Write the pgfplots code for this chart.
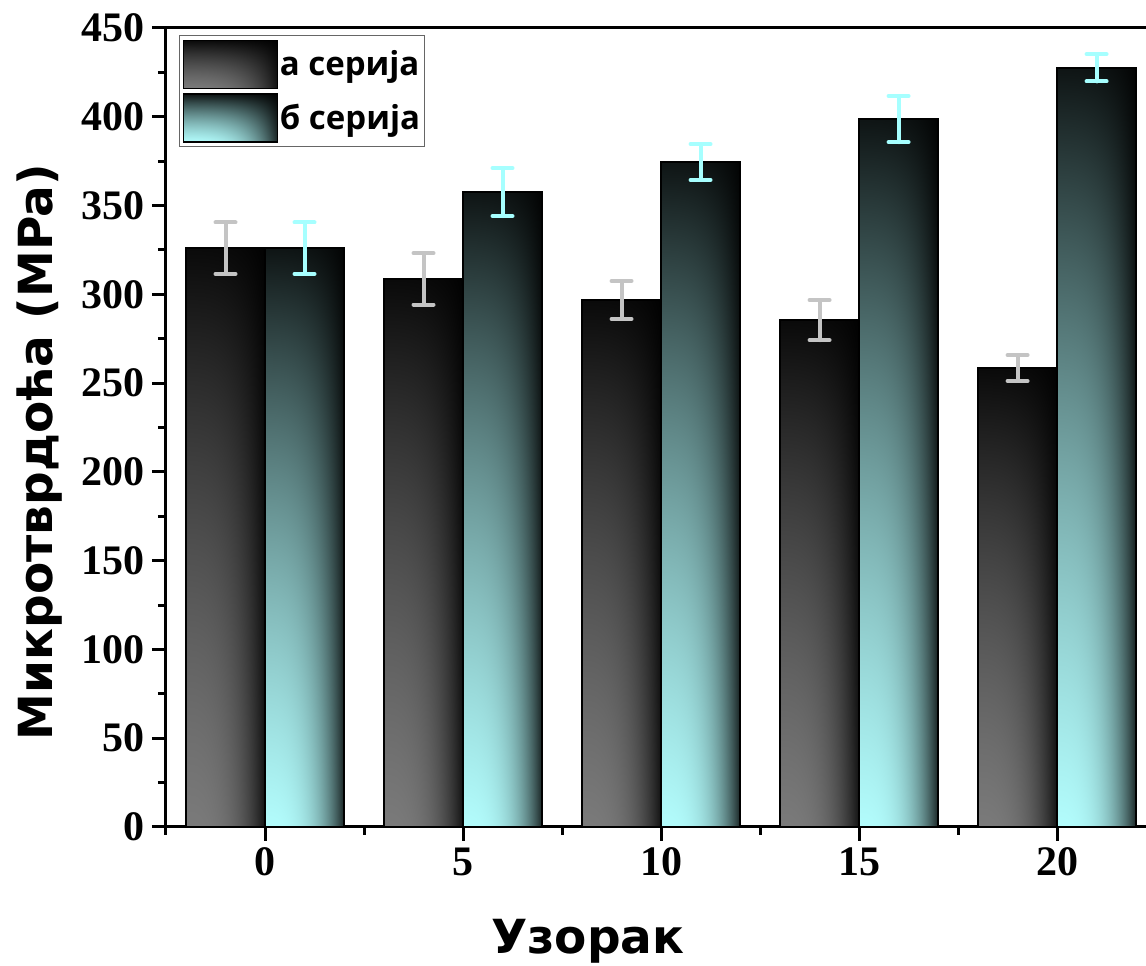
\documentclass[border=0pt]{standalone}
\usepackage{fontspec}
\setmainfont{Liberation Serif}
\newfontfamily\labfont{DejaVu Sans}
\newfontfamily\legfont{Open Sans}
\usepackage{pgfplots}
\usepackage{pgfplotstable}
\pgfplotsset{compat=1.18}

\definecolor{errgray}{HTML}{C4C4C4}
\definecolor{errcyan}{HTML}{A6FFFF}

% 2D gradient shadings (bar bbox maps to 25bp..75bp)
\pgfdeclarefunctionalshading{ashade}{\pgfpointorigin}{\pgfpoint{100bp}{100bp}}{}{
 25 sub 50 div dup dup mul -0.368 mul exch -0.552 mul add 1 add
 exch 25 sub 50 div dup dup mul mul -0.85 mul 1 add
 mul 0.48 mul dup dup
}
\pgfdeclarefunctionalshading{bshade}{\pgfpointorigin}{\pgfpoint{100bp}{100bp}}{}{
 25 sub 50 div dup dup mul -0.368 mul exch -0.552 mul add 1 add
 exch 25 sub 50 div dup dup mul mul -0.85 mul 1 add
 mul dup 0.70 mul exch dup 0.99 mul exch 0.99 mul
}

\pgfplotstableread{
x y e
0 326.0 14.5
1 308.7 14.5
2 296.8 10.7
3 285.5 11.3
4 258.5 7.3
}\seriesa
\pgfplotstableread{
x y e
0 326.0 14.5
1 357.6 13.5
2 374.5 10.1
3 398.7 13.0
4 427.6 7.7
}\seriesb

\pgfplotsset{
  abar/.style={bar shift=-19.75pt,
    draw=black, line width=0.8pt, shade, shading=ashade,
    error bars/y dir=both, error bars/y explicit,
    error bars/error bar style={line width=2pt, color=errgray, line cap=round},
    error bars/error mark options={rotate=90, mark size=5pt, line width=2pt, color=errgray, line cap=round}},
  bbar/.style={bar shift=19.75pt,
    draw=black, line width=0.8pt, shade, shading=bshade,
    error bars/y dir=both, error bars/y explicit,
    error bars/error bar style={line width=2pt, color=errcyan, line cap=round},
    error bars/error mark options={rotate=90, mark size=5pt, line width=2pt, color=errcyan, line cap=round}},
}

\begin{document}
\begin{tikzpicture}
\begin{axis}[
  scale only axis,
  width=490pt, height=399.5pt,
  xmin=-0.5, xmax=4.449,
  ymin=0, ymax=450,
  clip=false,
  ybar=0pt, bar width=39.5pt,
  axis lines*=left,
  axis line style={-, line width=1.5pt},
  tick align=outside,
  major tick length=7pt,
  minor tick length=4pt,
  every tick/.style={black, line width=1.5pt},
  xtick={0,1,2,3,4},
  xticklabels={0,5,10,15,20},
  minor xtick={-0.5,0.5,1.5,2.5,3.5},
  ytick={0,50,...,450},
  minor ytick={25,75,...,425},
  /pgf/number format/assume math mode=true,
  ticklabel style={font=\fontsize{21}{21}\selectfont\bfseries},
  ylabel={Микротврдоћа (MPa)},
  xlabel={Узорак},
  ylabel style={at={(axis description cs:-0.1286,0.469)}, anchor=center, font=\labfont\fontsize{23.5}{23.5}\selectfont\bfseries},
  xlabel style={at={(axis description cs:0.4306,-0.158)}, anchor=base, font=\labfont\fontsize{23.5}{23.5}\selectfont\bfseries},
  legend style={at={(axis description cs:0.0133,0.9912)}, anchor=north west,
    draw=black!60, line width=0.6pt, fill=white,
    inner xsep=1.5pt, inner ysep=2pt, row sep=2pt,
    font=\legfont\fontsize{16.5}{16.5}\selectfont\bfseries,
    nodes={inner sep=0.8pt},
    cells={anchor=west}},
  legend image code/.code={\draw[#1, line width=0.8pt] (0pt,-12pt) rectangle (47pt,12pt);},
]
\addplot[abar, restrict x to domain=-0.2:0.2] table[x=x, y=y, y error=e] {\seriesa};
\addlegendentry{а серија}
\addplot[bbar, restrict x to domain=-0.2:0.2] table[x=x, y=y, y error=e] {\seriesb};
\addlegendentry{б серија}
\addplot[abar, forget plot, restrict x to domain=0.8:1.2] table[x=x, y=y, y error=e] {\seriesa};
\addplot[bbar, forget plot, restrict x to domain=0.8:1.2] table[x=x, y=y, y error=e] {\seriesb};
\addplot[abar, forget plot, restrict x to domain=1.8:2.2] table[x=x, y=y, y error=e] {\seriesa};
\addplot[bbar, forget plot, restrict x to domain=1.8:2.2] table[x=x, y=y, y error=e] {\seriesb};
\addplot[abar, forget plot, restrict x to domain=2.8:3.2] table[x=x, y=y, y error=e] {\seriesa};
\addplot[bbar, forget plot, restrict x to domain=2.8:3.2] table[x=x, y=y, y error=e] {\seriesb};
\addplot[abar, forget plot, restrict x to domain=3.8:4.2] table[x=x, y=y, y error=e] {\seriesa};
\addplot[bbar, forget plot, restrict x to domain=3.8:4.2] table[x=x, y=y, y error=e] {\seriesb};
\draw[line width=1.5pt] (rel axis cs:0,1) -- (rel axis cs:1,1);
\coordinate (bbsw) at (rel axis cs:0,0);
\coordinate (bbne) at (rel axis cs:1,1);
\end{axis}
\pgfresetboundingbox
\useasboundingbox ([shift={(-83pt,-69.5pt)}]bbsw) rectangle ([shift={(0pt,14pt)}]bbne);
\end{tikzpicture}
\end{document}
